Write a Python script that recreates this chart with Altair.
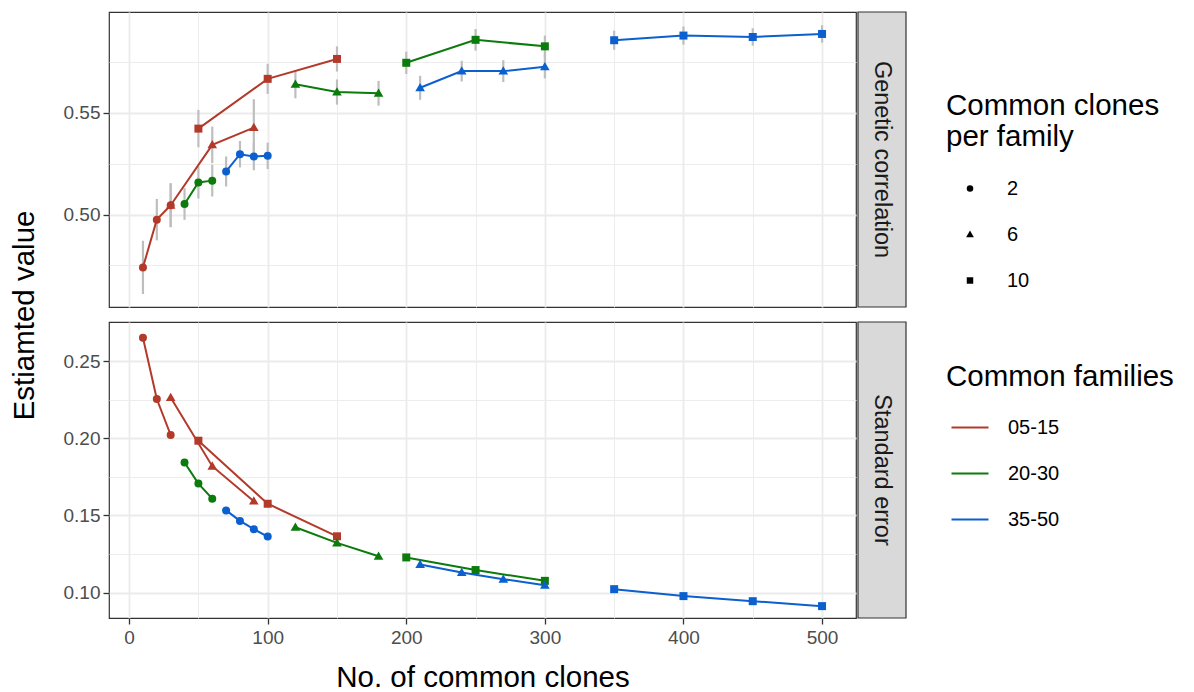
import altair as alt
import pandas as pd

FONT = "Liberation Sans"

# ---------------- data ----------------
families = ["05-15", "20-30", "35-50"]
clones_per_family = ["2", "6", "10"]
family_colors = ["#B33A2A", "#0B7B0B", "#0B5FCF"]
facet_labels = ["Genetic correlation", "Standard error"]
x_ticks = [0, 50, 100, 150, 200, 250, 300, 350, 400, 450, 500]
y_ticks_top = [0.475, 0.5, 0.525, 0.55, 0.575]
y_ticks_bottom = [0.1, 0.125, 0.15, 0.175, 0.2, 0.225, 0.25]

series_family = ["05-15", "05-15", "05-15", "20-30", "20-30", "20-30", "35-50", "35-50", "35-50"]
series_clones = ["2", "6", "10", "2", "6", "10", "2", "6", "10"]
series_x = [
    [10, 20, 30], [30, 60, 90], [50, 100, 150],
    [40, 50, 60], [120, 150, 180], [200, 250, 300],
    [70, 80, 90, 100], [210, 240, 270, 300], [350, 400, 450, 500],
]
series_rg = [
    [0.4740, 0.4975, 0.5046], [0.5046, 0.5343, 0.5428], [0.5423, 0.5668, 0.5766],
    [0.5052, 0.5158, 0.5167], [0.5641, 0.5603, 0.5597], [0.5747, 0.5860, 0.5828],
    [0.5212, 0.5297, 0.5286, 0.5289], [0.5624, 0.5706, 0.5706, 0.5727], [0.5858, 0.5881, 0.5874, 0.5889],
]
series_rg_err = [
    [0.0131, 0.0102, 0.0108], [0.0108, 0.0090, 0.0140], [0.0092, 0.0074, 0.0062],
    [0.0078, 0.0079, 0.0078], [0.0069, 0.0062, 0.0061], [0.0055, 0.0053, 0.0053],
    [0.0074, 0.0065, 0.0068, 0.0065], [0.0059, 0.0051, 0.0054, 0.0057], [0.0047, 0.0045, 0.0043, 0.0043],
]
series_se = [
    [0.2653, 0.2255, 0.2022], [0.2265, 0.1820, 0.1593], [0.1985, 0.1576, 0.1365],
    [0.1844, 0.1707, 0.1609], [0.1424, 0.1322, 0.1236], [0.1228, 0.1146, 0.1076],
    [0.1533, 0.1465, 0.1411, 0.1363], [0.1182, 0.1130, 0.1087, 0.1048], [0.1022, 0.0977, 0.0944, 0.0912],
]

rows = []
for fam, cl, xs, rgs, errs, ses in zip(series_family, series_clones, series_x,
                                       series_rg, series_rg_err, series_se):
    for x, rg, e, se in zip(xs, rgs, errs, ses):
        rows.append({"family": fam, "clones": cl, "x": x, "rg": rg, "err": e, "se": se})
df = pd.DataFrame(rows)

# ---------------- encodings ----------------
TRIANGLE = "M0,-1.2L1.2,0.87L-1.2,0.87Z"

color_legend = alt.Legend(
    title="Common families", orient="none", legendX=837, legendY=351,
    symbolType="stroke", symbolSize=1369, symbolStrokeWidth=2.2,
    symbolOffset=4, labelOffset=18, rowPadding=16, titlePadding=15,
    titleLimit=400, labelLimit=200,
)
shape_legend = alt.Legend(
    title=["Common clones", "per family"], orient="none", legendX=837, legendY=80,
    symbolSize=42, symbolFillColor="black", symbolStrokeColor="black", symbolStrokeWidth=0,
    symbolOffset=14, labelOffset=27, rowPadding=26, titlePadding=26,
    titleLimit=400, labelLimit=200,
)
color_enc = alt.Color("family:N", scale=alt.Scale(domain=families, range=family_colors),
                      legend=color_legend)
shape_enc = alt.Shape("clones:N", scale=alt.Scale(domain=clones_per_family,
                                                  range=["circle", TRIANGLE, "square"]),
                      legend=shape_legend)

x_major = "datum.value % 100 === 0"
y_major = "round(datum.value * 1000) % 50 === 0"
x_scale = alt.Scale(domain=[-14.5, 524.5], nice=False, zero=False)

def x_axis(show):
    kw = dict(values=x_ticks,
              gridWidth={"condition": {"test": x_major, "value": 1.8}, "value": 0.9},
              tickOpacity={"condition": {"test": x_major, "value": 1}, "value": 0},
              labelExpr=f"{x_major} ? datum.label : ''")
    if show:
        return alt.Axis(title="No. of common clones", titlePadding=16, labelPadding=4, **kw)
    return alt.Axis(title=None, labels=False, ticks=False, **kw)

def y_axis(vals, with_title):
    kw = dict(values=vals,
              gridWidth={"condition": {"test": y_major, "value": 1.8}, "value": 0.9},
              tickOpacity={"condition": {"test": y_major, "value": 1}, "value": 0},
              labelExpr=f"{y_major} ? format(datum.value, '.2f') : ''",
              labelPadding=3)
    if with_title:
        return alt.Axis(title="Estiamted value", titleY=303, titleX=-70, **kw)
    return alt.Axis(title=None, **kw)

PW, PH = 747, 295
SW = 48  # strip width
PT_SIZE = 64

def strip_layers(label, h):
    src = alt.Chart(alt.Data(values=[{"lab": label}]))
    box = src.mark_rect(fill="#D9D9D9", stroke="#333333", strokeWidth=1.2).encode(
        x=alt.value(PW + 2), x2=alt.value(PW + 2 + SW), y=alt.value(0), y2=alt.value(h)
    )
    txt = src.mark_text(angle=90, font=FONT, fontSize=23.5, color="#1A1A1A",
                        align="center", baseline="middle").encode(
        text="lab:N", x=alt.value(PW + 2 + SW / 2), y=alt.value(h / 2)
    )
    return [box, txt]

base = alt.Chart(df)

# top panel: genetic correlation with error bars
y_top_scale = alt.Scale(domain=[0.4545, 0.5997], nice=False, zero=False)
xt = alt.X("x:Q", scale=x_scale, axis=x_axis(False))
top_err = base.transform_calculate(
    lo="datum.rg - datum.err", hi="datum.rg + datum.err"
).mark_rule(color="#BEBEBE", strokeWidth=2.2).encode(
    x=xt,
    y=alt.Y("lo:Q", scale=y_top_scale, axis=y_axis(y_ticks_top, True)),
    y2="hi:Q",
)
top_line = base.mark_line(strokeWidth=2).encode(
    x=xt,
    y=alt.Y("rg:Q", scale=y_top_scale, axis=y_axis(y_ticks_top, True)),
    color=color_enc, detail="clones:N",
)
top_pts = base.mark_point(filled=True, opacity=1, size=PT_SIZE, strokeWidth=0).encode(
    x=xt,
    y=alt.Y("rg:Q", scale=y_top_scale, axis=y_axis(y_ticks_top, True)),
    color=color_enc, shape=shape_enc,
)
top = alt.layer(top_err, top_line, top_pts, *strip_layers(facet_labels[0], PH)).properties(
    width=PW, height=PH)

# bottom panel: standard error
y_bot_scale = alt.Scale(domain=[0.0835, 0.2755], nice=False, zero=False)
xb = alt.X("x:Q", scale=x_scale, axis=x_axis(True))
bot_line = base.mark_line(strokeWidth=2).encode(
    x=xb,
    y=alt.Y("se:Q", scale=y_bot_scale, axis=y_axis(y_ticks_bottom, False)),
    color=color_enc, detail="clones:N",
)
bot_pts = base.mark_point(filled=True, opacity=1, size=PT_SIZE, strokeWidth=0).encode(
    x=xb,
    y=alt.Y("se:Q", scale=y_bot_scale, axis=y_axis(y_ticks_bottom, False)),
    color=color_enc, shape=shape_enc,
)
bottom = alt.layer(bot_line, bot_pts, *strip_layers(facet_labels[1], PH + 1)).properties(
    width=PW, height=PH + 1)

chart = alt.vconcat(top, bottom, spacing=15, bounds="flush").properties(
    padding={"left": 0, "top": 2, "right": 5, "bottom": 0}
).resolve_scale(y="independent").configure(
    font=FONT
).configure_view(
    stroke="#333333", strokeWidth=1.2
).configure_axis(
    labelFont=FONT, titleFont=FONT, labelColor="#4D4D4D", labelFontSize=19,
    titleFontSize=29.5, titleFontWeight="normal", titleColor="black",
    tickColor="#333333", tickWidth=1.3, tickSize=6, gridColor="#EBEBEB", domain=False,
).configure_legend(
    labelFont=FONT, titleFont=FONT, labelFontSize=20, titleFontSize=29.5,
    titleFontWeight="normal", titleColor="black", labelColor="black",
    titleLineHeight=31, padding=0,
)

chart.save("out.html", embed_options={"renderer": "svg", "actions": False})
